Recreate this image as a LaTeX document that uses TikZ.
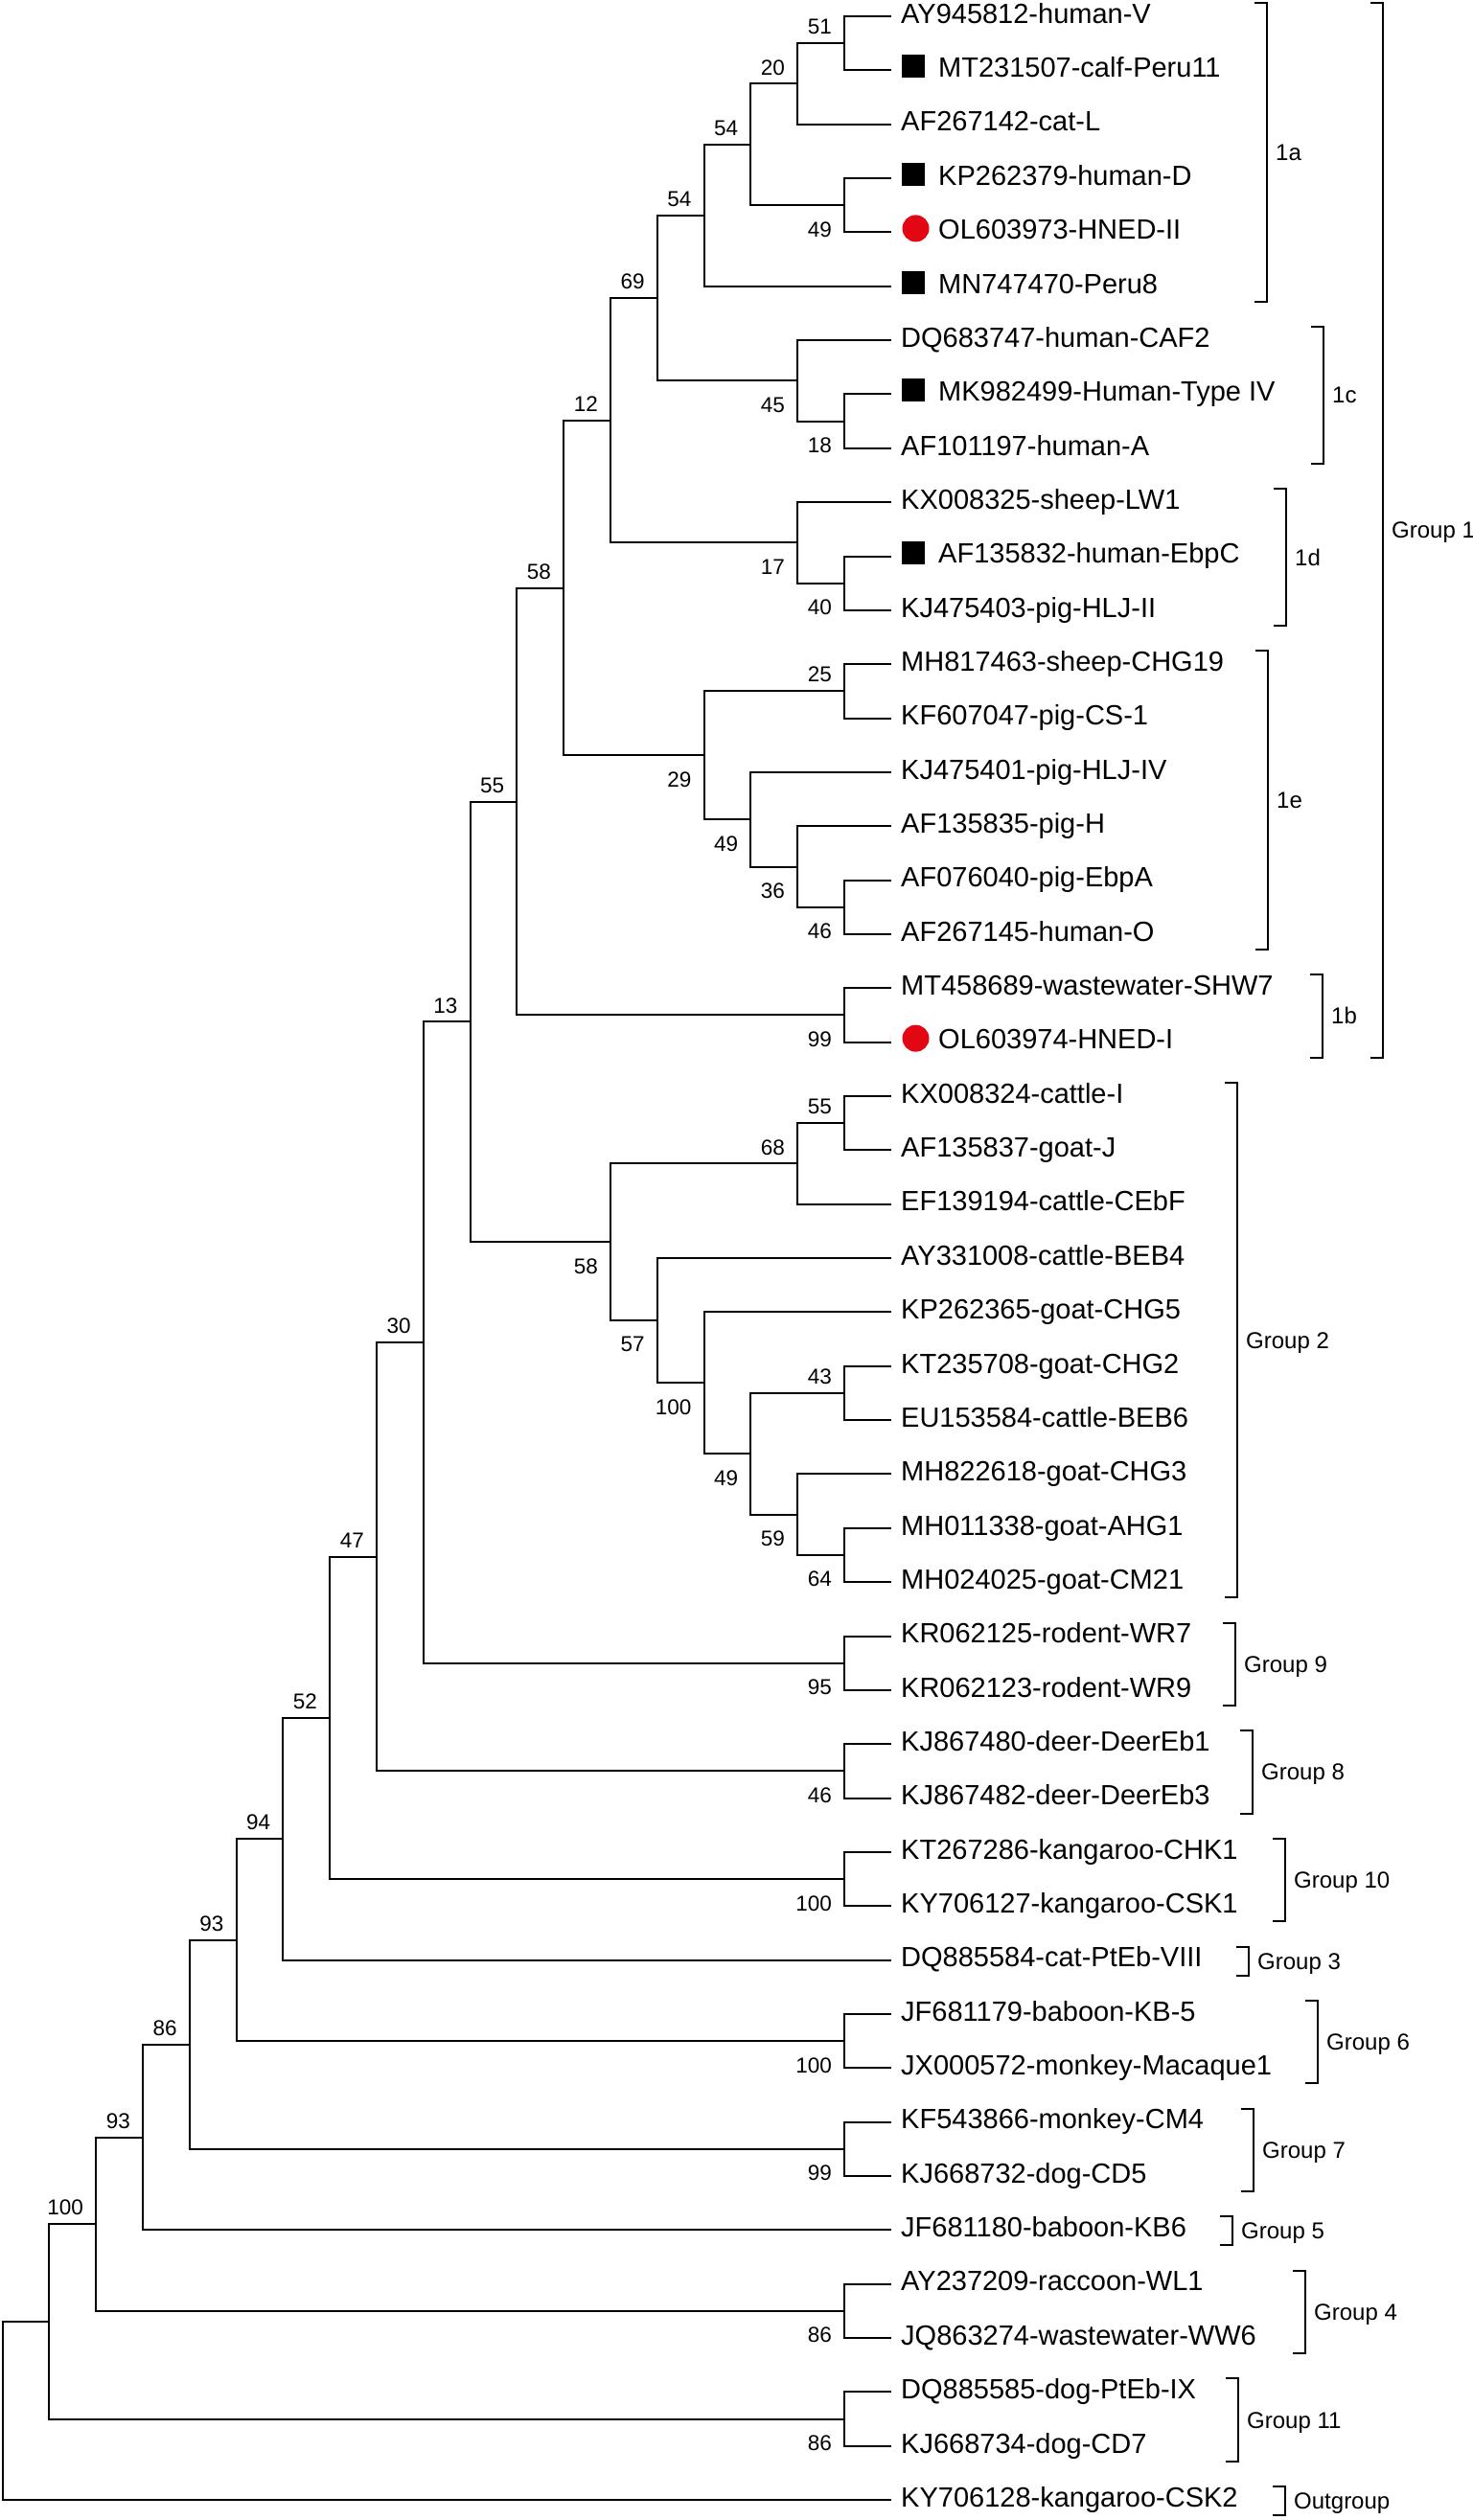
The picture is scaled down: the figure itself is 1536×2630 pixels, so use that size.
\documentclass[tikz,border=0pt]{standalone}
\usepackage{fontspec}
\setmainfont{Liberation Sans}
\usetikzlibrary{calc}
\definecolor{hnedred}{RGB}{227,6,19}
\begin{document}
\begin{tikzpicture}[x=1pt,y=-1pt,
  br/.style={line width=2pt, line join=miter},
  leaflab/.style={anchor=base west, inner sep=0pt, font=\fontsize{29}{30}\selectfont},
  bsa/.style={anchor=south east, inner sep=0pt, font=\fontsize{22.5}{24}\selectfont},
  bsb/.style={anchor=north east, inner sep=0pt, font=\fontsize{22.5}{24}\selectfont},
  grplab/.style={anchor=base west, inner sep=0pt, font=\fontsize{24}{26}\selectfont},
  sqmark/.style={rectangle, fill=black, minimum size=24pt, inner sep=0pt},
  dotmark/.style={circle, fill=hnedred, minimum size=28pt, inner sep=0pt}]
\useasboundingbox (0,0) rectangle (1536,2630);

% ---------- leaf tips ----------
\foreach \i in {0,...,46} {
  \coordinate (t\i) at (929.8,{17+56.35*\i});
}

% ---------- leaf labels ----------
\foreach \i/\txt in {0/AY945812-human-V, 2/AF267142-cat-L, 6/DQ683747-human-CAF2,
  8/AF101197-human-A, 9/KX008325-sheep-LW1, 11/KJ475403-pig-HLJ-II,
  12/MH817463-sheep-CHG19, 13/KF607047-pig-CS-1, 14/KJ475401-pig-HLJ-IV,
  15/AF135835-pig-H, 16/AF076040-pig-EbpA, 17/AF267145-human-O,
  18/MT458689-wastewater-SHW7, 20/KX008324-cattle-I, 21/AF135837-goat-J,
  22/EF139194-cattle-CEbF, 23/AY331008-cattle-BEB4, 24/KP262365-goat-CHG5,
  25/KT235708-goat-CHG2, 26/EU153584-cattle-BEB6, 27/MH822618-goat-CHG3,
  28/MH011338-goat-AHG1, 29/MH024025-goat-CM21, 30/KR062125-rodent-WR7,
  31/KR062123-rodent-WR9, 32/KJ867480-deer-DeerEb1, 33/KJ867482-deer-DeerEb3,
  34/KT267286-kangaroo-CHK1, 35/KY706127-kangaroo-CSK1, 36/DQ885584-cat-PtEb-VIII,
  37/JF681179-baboon-KB-5, 38/JX000572-monkey-Macaque1, 39/KF543866-monkey-CM4,
  40/KJ668732-dog-CD5, 41/JF681180-baboon-KB6, 42/AY237209-raccoon-WL1,
  43/JQ863274-wastewater-WW6, 44/DQ885585-dog-PtEb-IX, 45/KJ668734-dog-CD7,
  46/KY706128-kangaroo-CSK2} {
  \node[leaflab] (L\i) at (940,{24.25+56.35*\i}) {\txt};
}
\foreach \i/\txt in {1/MT231507-calf-Peru11, 3/KP262379-human-D, 5/MN747470-Peru8,
  7/MK982499-Human-Type IV, 10/AF135832-human-EbpC} {
  \node[sqmark] (m\i) at (952.5,{13+56.35*\i}) {};
  \node[leaflab] (L\i) at (979,{24.25+56.35*\i}) {\txt};
}
\foreach \i/\txt in {4/OL603973-HNED-II, 19/OL603974-HNED-I} {
  \node[dotmark] (m\i) at (955.5,{13+56.35*\i}) {};
  \node[leaflab] (L\i) at (979,{24.25+56.35*\i}) {\txt};
}

% ---------- internal nodes ----------
\coordinate (n51)   at (881.0,45.175);
\coordinate (n20)   at (832.2,87.44);
\coordinate (n49a)  at (881.0,214.23);
\coordinate (n54a)  at (783.4,150.83);
\coordinate (n54b)  at (734.6,224.79);
\coordinate (n18)   at (881.0,439.63);
\coordinate (n45)   at (832.2,397.36);
\coordinate (n69)   at (685.8,311.08);
\coordinate (n40)   at (881.0,608.68);
\coordinate (n17)   at (832.2,566.41);
\coordinate (n12)   at (637.0,438.75);
\coordinate (n25)   at (881.0,721.38);
\coordinate (n46a)  at (881.0,946.78);
\coordinate (n36)   at (832.2,904.51);
\coordinate (n49b)  at (783.4,855.21);
\coordinate (n29)   at (734.6,788.29);
\coordinate (n58a)  at (588.2,613.52);
\coordinate (n99a)  at (881.0,1059.48);
\coordinate (n55a)  at (539.4,836.5);
\coordinate (n55b)  at (881.0,1172.18);
\coordinate (n68)   at (832.2,1214.44);
\coordinate (n43)   at (881.0,1453.93);
\coordinate (n64)   at (881.0,1622.98);
\coordinate (n59)   at (832.2,1580.71);
\coordinate (n49c)  at (783.4,1517.32);
\coordinate (n100a) at (734.6,1443.36);
\coordinate (n57)   at (685.8,1378.2);
\coordinate (n58b)  at (637.0,1296.32);
\coordinate (n13)   at (490.6,1066.41);
\coordinate (n95)   at (881.0,1735.68);
\coordinate (n30)   at (441.8,1401.04);
\coordinate (n46b)  at (881.0,1848.38);
\coordinate (n47)   at (393.0,1624.71);
\coordinate (n100b) at (881.0,1961.08);
\coordinate (n52)   at (344.2,1792.89);
\coordinate (n94)   at (295.4,1919.25);
\coordinate (n100c) at (881.0,2130.13);
\coordinate (n93a)  at (246.6,2024.69);
\coordinate (n99b)  at (881.0,2242.83);
\coordinate (n86a)  at (197.8,2133.76);
\coordinate (n93b)  at (149.0,2230.55);
\coordinate (n86b)  at (881.0,2411.88);
\coordinate (n100d) at (100.2,2321.21);
\coordinate (n86c)  at (881.0,2524.58);
\coordinate (nL1)   at (51.4,2422.89);
\coordinate (root)  at (2.6,2516.0);

% ---------- branches ----------
\foreach \p/\a/\b in {n51/t0/t1, n20/n51/t2, n49a/t3/t4, n54a/n20/n49a, n54b/n54a/t5,
  n18/t7/t8, n45/t6/n18, n69/n54b/n45, n40/t10/t11, n17/t9/n40, n12/n69/n17,
  n25/t12/t13, n46a/t16/t17, n36/t15/n46a, n49b/t14/n36, n29/n25/n49b,
  n58a/n12/n29, n99a/t18/t19, n55a/n58a/n99a, n55b/t20/t21, n68/n55b/t22,
  n43/t25/t26, n64/t28/t29, n59/t27/n64, n49c/n43/n59, n100a/t24/n49c,
  n57/t23/n100a, n58b/n68/n57, n13/n55a/n58b, n95/t30/t31, n30/n13/n95,
  n46b/t32/t33, n47/n30/n46b, n100b/t34/t35, n52/n47/n100b, n94/n52/t36,
  n100c/t37/t38, n93a/n94/n100c, n99b/t39/t40, n86a/n93a/n99b, n93b/n86a/t41,
  n86b/t42/t43, n100d/n93b/n86b, n86c/t44/t45, nL1/n100d/n86c, root/nL1/t46} {
  \draw[br] (\a) -| (\p) |- (\b);
}

% ---------- bootstrap values ----------
\foreach \n/\v in {n51/51, n20/20, n54a/54, n54b/54, n69/69, n12/12, n25/25,
  n58a/58, n55a/55, n55b/55, n68/68, n43/43, n13/13, n30/30, n47/47, n52/52,
  n94/94, n93a/93, n86a/86, n93b/93, n100d/100} {
  \node[bsa] (b\n) at ($(\n)+(-13,-9)$) {\v};
}
\foreach \n/\v in {n49a/49, n18/18, n45/45, n40/40, n17/17, n46a/46, n36/36,
  n49b/49, n29/29, n99a/99, n64/64, n59/59, n49c/49, n100a/100, n57/57,
  n58b/58, n95/95, n46b/46, n100b/100, n100c/100, n99b/99, n86b/86, n86c/86} {
  \node[bsb] (b\n) at ($(\n)+(-13,17)$) {\v};
}

% ---------- group brackets ----------
\foreach \k/\bx/\btop/\bbot/\blab in {
  1/1322/3/315/1a, 2/1443/3/1103.65/Group 1, 3/1381/341.1/483.8/1c,
  4/1342/510.15/652.85/1d, 5/1323/679.2/990.95/1e, 6/1380/1017.3/1103.65/1b,
  7/1291/1130/1667.15/Group 2, 8/1289/1693.5/1779.85/Group 9,
  9/1307/1806.2/1892.55/Group 8, 10/1341/1918.9/2005.25/Group 10,
  11/1303/2031.6/2061.6/Group 3, 12/1375/2087.95/2174.3/Group 6,
  13/1308/2200.65/2287/Group 7, 14/1286/2313.35/2343.35/Group 5,
  15/1362/2369.7/2456.05/Group 4, 16/1292/2482.4/2568.75/Group 11,
  17/1341/2595.1/2625.1/Outgroup} {
  \draw[br] (\bx-13,\btop) -- (\bx,\btop) -- (\bx,\bbot) -- (\bx-13,\bbot);
  \node[grplab] (g\k) at (\bx+9,{(\btop+\bbot)/2+8.5}) {\blab};
}
\end{tikzpicture}
\end{document}
